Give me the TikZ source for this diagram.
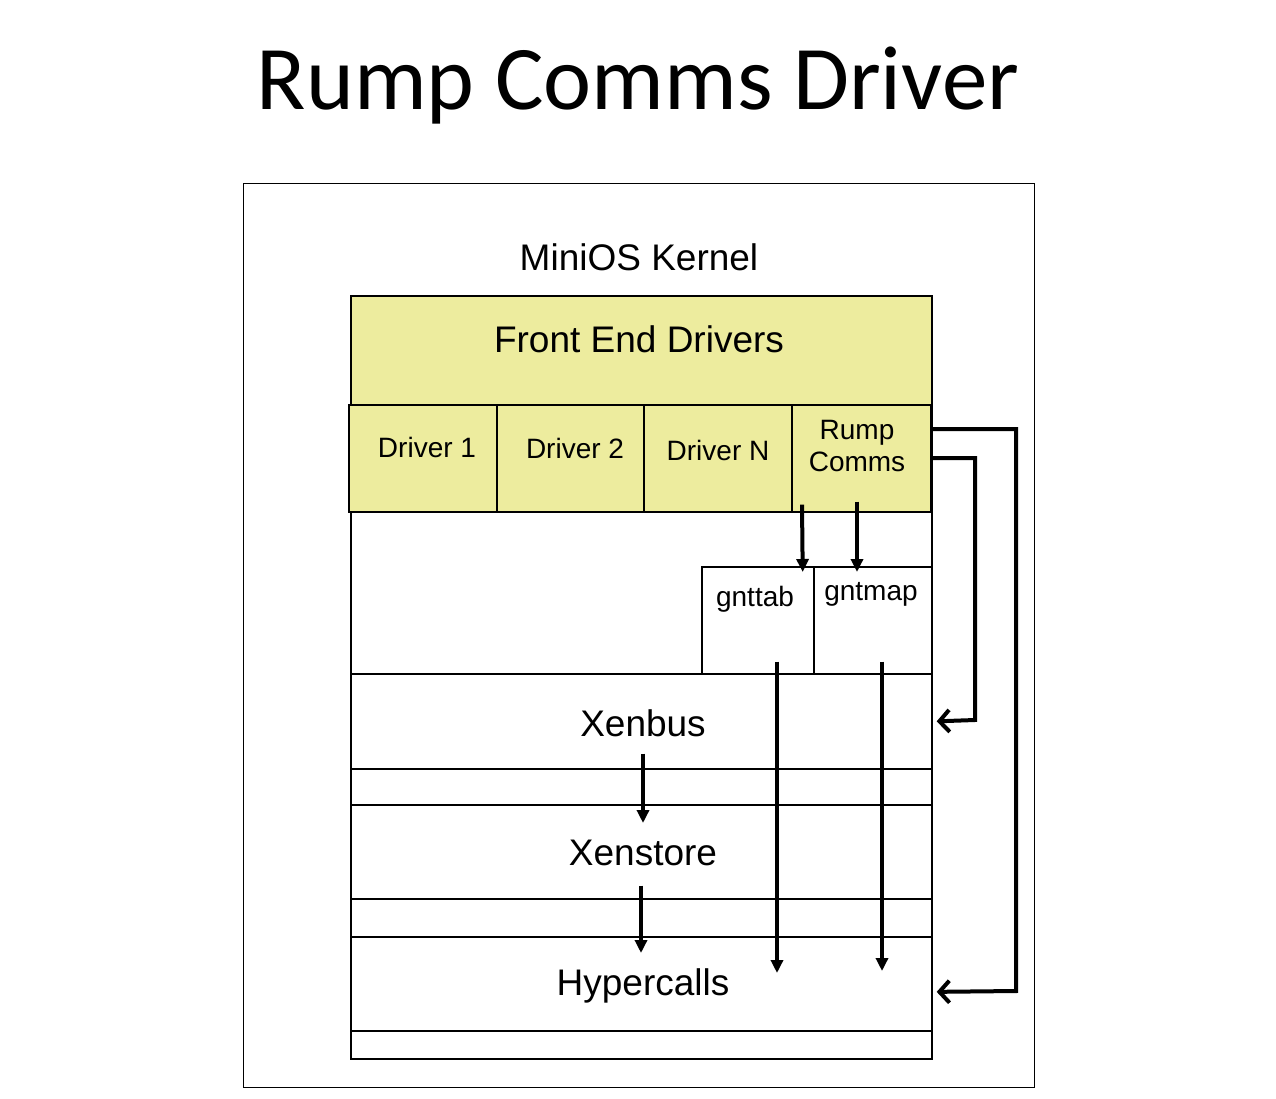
\documentclass[tikz,border=0pt]{standalone}
\usepackage{fontspec}
\setmainfont{Liberation Sans}
\newfontfamily\titlefont{Carlito}
\usetikzlibrary{arrows.meta}
\definecolor{fey}{HTML}{EDEC9E}
\begin{document}
\begin{tikzpicture}[x=1pt,y=-1pt,
  box/.style={draw=black, line width=1.7pt, rectangle, inner sep=0pt, anchor=north west},
  ybox/.style={box, fill=fey},
  lbl/.style={inner sep=0pt, font=\fontsize{37}{42}\selectfont},
  slbl/.style={inner sep=0pt, font=\fontsize{28}{33}\selectfont, align=center},
  arr/.style={line width=4pt, -{Triangle[length=13pt,width=12pt]}},
  barb/.style={line width=4pt, line join=miter, -{Straight Barb[length=10pt,width=22pt,line width=4pt]}}
]
\useasboundingbox (0,0) rectangle (1276,1099);
\fill[white] (0,0) rectangle (1276,1099);
% title
\node[inner sep=0pt, font=\titlefont\fontsize{91}{100}\selectfont] (title) at (638,86) {Rump Comms Driver};
% outer kernel box
\node[box, line width=1.3pt, minimum width=791pt, minimum height=904pt] (kernel) at (243,183) {};
\node[lbl] (kernellbl) at (639,257) {MiniOS Kernel};
% inner stack
\node[box, minimum width=581pt, minimum height=763pt] (stack) at (350,295) {};
\node[ybox, minimum width=581pt, minimum height=109pt] (fed) at (350,295) {};
\node[lbl] (fedlbl) at (639,339) {Front End Drivers};
% drivers
\node[ybox, minimum width=148pt, minimum height=107pt] (d1) at (348,404) {};
\node[ybox, minimum width=147pt, minimum height=107pt] (d2) at (496,404) {};
\node[ybox, minimum width=148pt, minimum height=107pt] (dn) at (643,404) {};
\node[ybox, minimum width=139pt, minimum height=107pt] (rump) at (791,404) {};
\node[slbl] (d1lbl) at (427,447) {Driver 1};
\node[slbl] (d2lbl) at (575,448) {Driver 2};
\node[slbl] (dnlbl) at (718,450) {Driver N};
\node[slbl] (rumplbl) at (857,446) {Rump\\[-1pt]Comms};
% grant boxes
\node[box, minimum width=112pt, minimum height=107pt] (gnttab) at (701,566) {};
\node[box, minimum width=118pt, minimum height=107pt] (gntmap) at (813,566) {};
\node[slbl] (gnttablbl) at (755,599) {gnttab};
\node[slbl] (gntmaplbl) at (871,594) {gntmap};
% layers
\node[box, minimum width=581pt, minimum height=95pt] (xenbus) at (350,673) {};
\node[box, minimum width=581pt, minimum height=94pt] (xenstore) at (350,804) {};
\node[box, minimum width=581pt, minimum height=94pt] (hyper) at (350,936) {};
\node[lbl] (xenbuslbl) at (643,723) {Xenbus};
\node[lbl] (xenstorelbl) at (643,853) {Xenstore};
\node[lbl] (hyperlbl) at (643,986) {Hypercalls};
% arrows
\draw[arr] ([xshift=11pt,yshift=8pt]rump.south west) -- ([xshift=-12pt,yshift=-6pt]gnttab.north east);
\draw[arr] ([xshift=66pt,yshift=11pt]rump.south west) -- ([xshift=44pt,yshift=-6pt]gntmap.north west);
\draw[arr] ([xshift=76pt,yshift=13pt]gnttab.south west) -- ([xshift=427pt,yshift=-37pt]hyper.north west);
\draw[arr] ([xshift=69pt,yshift=13pt]gntmap.south west) -- ([xshift=532pt,yshift=-35pt]hyper.north west);
\draw[arr] ([xshift=293pt,yshift=16pt]xenbus.south west) -- ([xshift=293pt,yshift=-19pt]xenstore.north west);
\draw[arr] ([xshift=291pt,yshift=14pt]xenstore.south west) -- ([xshift=291pt,yshift=-17pt]hyper.north west);
\draw[barb] ([yshift=-25pt]rump.north east) -| (1016,991) -- ([xshift=4pt,yshift=-8pt]hyper.east);
\draw[barb] ([yshift=-54pt]rump.north east) -| (975,720) -- ([xshift=4pt]xenbus.east);
\end{tikzpicture}
\end{document}
